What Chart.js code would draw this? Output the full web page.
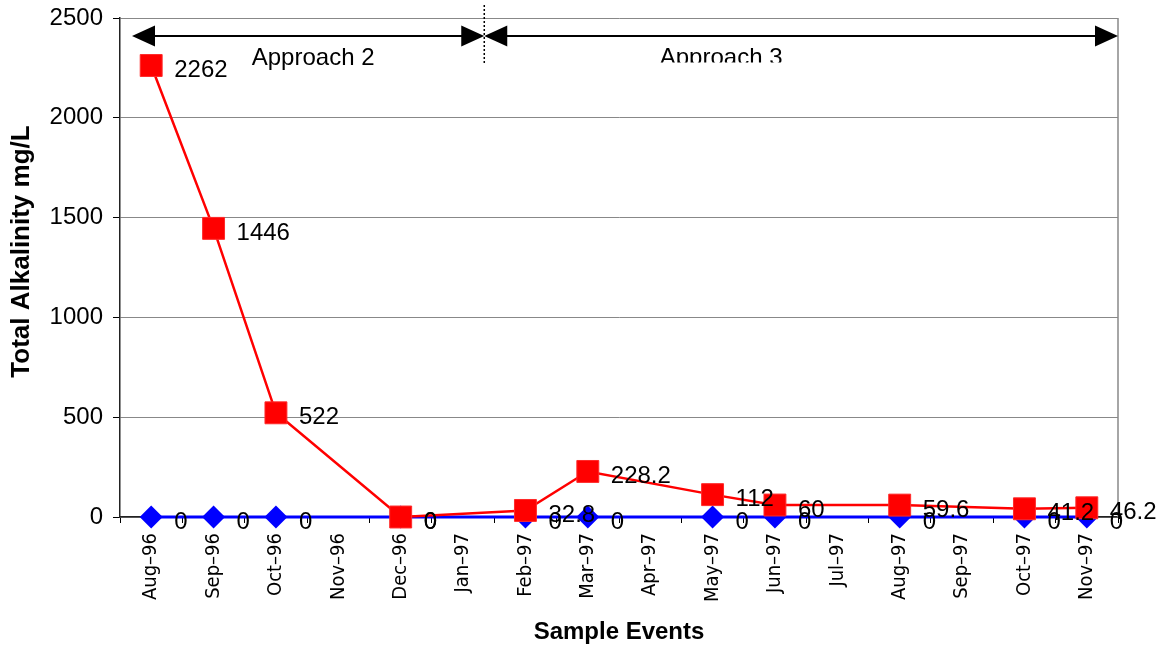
<!DOCTYPE html>
<html>
<head>
<meta charset="utf-8">
<script src="https://cdn.jsdelivr.net/npm/chart.js@4/dist/chart.umd.min.js"></script>
<style>
  html, body { margin: 0; padding: 0; background: #fff; }
  #wrap { width: 1160px; height: 645px; }
</style>
</head>
<body>
<div id="wrap"><canvas id="c" width="1160" height="645"></canvas></div>
<script>
// Sampling months
const months = ['Aug\u201396', 'Sep\u201396', 'Oct\u201396', 'Nov\u201396', 'Dec\u201396', 'Jan\u201397',
                'Feb\u201397', 'Mar\u201397', 'Apr\u201397', 'May\u201397', 'Jun\u201397', 'Jul\u201397',
                'Aug\u201397', 'Sep\u201397', 'Oct\u201397', 'Nov\u201397'];

// Total alkalinity (mg/L); null = not sampled that month
const alkalinityA = [2262, 1446, 522, null, 0, null, 32.8, 228.2, null, 112, 60, null, 59.6, null, 41.2, 46.2];
const alkalinityB = [0, 0, 0, null, 0, null, 0, 0, null, 0, 0, null, 0, null, 0, 0];

// Y axis range
const yMin = 0, yMax = 2500, yStep = 500;
const yTitle = 'Total Alkalinity mg/L';

// Treatment phases (category positions along the x axis)
const phaseLabels = ['Approach 2', 'Approach 3'];
const phaseBreak = 5.34;

const FONT = "'Liberation Sans', Arial, sans-serif";
const NARROW = "'Liberation Sans Narrow', 'DejaVu Sans Condensed', 'Liberation Sans', sans-serif";

// Value labels to the right of each point
const valueLabels = {
  id: 'valueLabels',
  afterDatasetsDraw(chart) {
    const ctx = chart.ctx;
    ctx.save();
    ctx.font = '24px ' + FONT;
    ctx.fillStyle = '#000';
    ctx.textAlign = 'left';
    ctx.textBaseline = 'alphabetic';
    // blue series labels first, red on top
    [1, 0].forEach(di => {
      const ds = chart.data.datasets[di];
      const meta = chart.getDatasetMeta(di);
      ds.data.forEach((v, i) => {
        if (v === null) return;
        const p = meta.data[i];
        ctx.fillText(String(v), p.x + 23, p.y + 11.5);
      });
    });
    ctx.restore();
  }
};

// Right frame line and the vertical axis title
const frame = {
  id: 'frame',
  beforeDatasetsDraw(chart) {
    const {ctx, chartArea: a} = chart;
    ctx.save();
    ctx.strokeStyle = '#888';
    ctx.lineWidth = 1.5;
    ctx.beginPath();
    ctx.moveTo(a.right, a.top);
    ctx.lineTo(a.right, a.bottom);
    ctx.stroke();

    ctx.translate(22, (a.top + a.bottom) / 2 - 16);
    ctx.rotate(-Math.PI / 2);
    ctx.font = 'bold 26px ' + FONT;
    ctx.fillStyle = '#000';
    ctx.textAlign = 'center';
    ctx.textBaseline = 'middle';
    ctx.fillText(yTitle, 0, 0);
    ctx.restore();
  }
};

function arrowHead(ctx, tipX, y, dir) {
  ctx.beginPath();
  ctx.moveTo(tipX, y);
  ctx.lineTo(tipX - dir * 23, y - 10.5);
  ctx.lineTo(tipX - dir * 23, y + 10.5);
  ctx.closePath();
  ctx.fill();
}

// Phase arrows and divider along the top of the plot
const phases = {
  id: 'phases',
  afterDraw(chart) {
    const {ctx, chartArea: a, scales: {x}} = chart;
    const y = 36;
    const xStart = a.left + 12;
    const xBreak = x.getPixelForValue(phaseBreak);
    const xEnd = a.right;
    ctx.save();
    ctx.strokeStyle = '#000';
    ctx.fillStyle = '#000';
    ctx.lineWidth = 2;
    ctx.beginPath();
    ctx.moveTo(xStart + 10, y); ctx.lineTo(xBreak - 10, y);
    ctx.moveTo(xBreak + 10, y); ctx.lineTo(xEnd - 10, y);
    ctx.stroke();
    arrowHead(ctx, xStart, y, -1);
    arrowHead(ctx, xBreak, y, 1);
    arrowHead(ctx, xBreak, y, -1);
    arrowHead(ctx, xEnd, y, 1);

    // dotted divider
    ctx.lineWidth = 1.5;
    ctx.setLineDash([2, 2]);
    ctx.beginPath();
    ctx.moveTo(xBreak, 5);
    ctx.lineTo(xBreak, 63);
    ctx.stroke();
    ctx.setLineDash([]);

    ctx.font = '24px ' + FONT;
    ctx.textAlign = 'center';
    ctx.textBaseline = 'alphabetic';
    ctx.fillText(phaseLabels[0], (xStart + xBreak) / 2 + 5, 65);
    // second label sits in a box that trims its lower edge
    ctx.save();
    ctx.beginPath();
    ctx.rect(xBreak, 40, xEnd - xBreak, 22.5);
    ctx.clip();
    ctx.fillText(phaseLabels[1], (xBreak + xEnd) / 2 - 80, 65);
    ctx.restore();
    ctx.restore();
  }
};

new Chart(document.getElementById('c'), {
  type: 'line',
  data: {
    labels: months,
    datasets: [
      {
        data: alkalinityA,
        borderColor: '#ff0000',
        backgroundColor: '#ff0000',
        borderWidth: 2.5,
        pointStyle: 'rect',
        pointRadius: 15.5,
        pointHoverRadius: 15.5,
        pointBorderWidth: 1,
        pointBorderColor: '#ff2a2a',
        spanGaps: true,
        tension: 0
      },
      {
        data: alkalinityB,
        borderColor: '#0000ff',
        backgroundColor: '#0000ff',
        borderWidth: 3,
        pointStyle: 'rectRot',
        pointRadius: 11.5,
        pointHoverRadius: 11.5,
        pointBorderWidth: 0,
        spanGaps: true,
        tension: 0
      }
    ]
  },
  options: {
    responsive: false,
    devicePixelRatio: 1,
    animation: false,
    events: [],
    clip: false,
    layout: { padding: { top: 18, right: 42, left: 0, bottom: 0 } },
    plugins: {
      legend: { display: false },
      tooltip: { enabled: false }
    },
    scales: {
      x: {
        type: 'category',
        offset: true,
        afterFit(s) { s.height = 128; s.paddingLeft = 0; s.paddingRight = 0; },
        grid: {
          offset: true,
          drawOnChartArea: false,
          drawTicks: true,
          tickLength: 6,
          tickColor: '#000',
          color: '#000'
        },
        border: { display: true, color: '#222', width: 1.5 },
        ticks: {
          autoSkip: false,
          maxRotation: 90,
          minRotation: 90,
          padding: 10,
          color: '#000',
          font: { family: NARROW, size: 20 }
        },
        title: {
          display: true,
          text: 'Sample Events',
          color: '#000',
          font: { family: FONT, size: 24, weight: 'bold' },
          padding: { top: 0, bottom: -2 }
        }
      },
      y: {
        min: yMin,
        max: yMax,
        afterFit(s) { s.width = 120; s.paddingTop = 0; s.paddingBottom = 0; },
        grid: {
          color: '#888',
          lineWidth: 1,
          tickColor: '#000',
          tickLength: 7
        },
        border: { display: true, color: '#222', width: 1.5 },
        ticks: {
          stepSize: yStep,
          padding: 10,
          color: '#000',
          font: { family: FONT, size: 24 },
          callback: v => String(v)
        },
        title: { display: false }
      }
    }
  },
  plugins: [frame, valueLabels, phases]
});
</script>
</body>
</html>
